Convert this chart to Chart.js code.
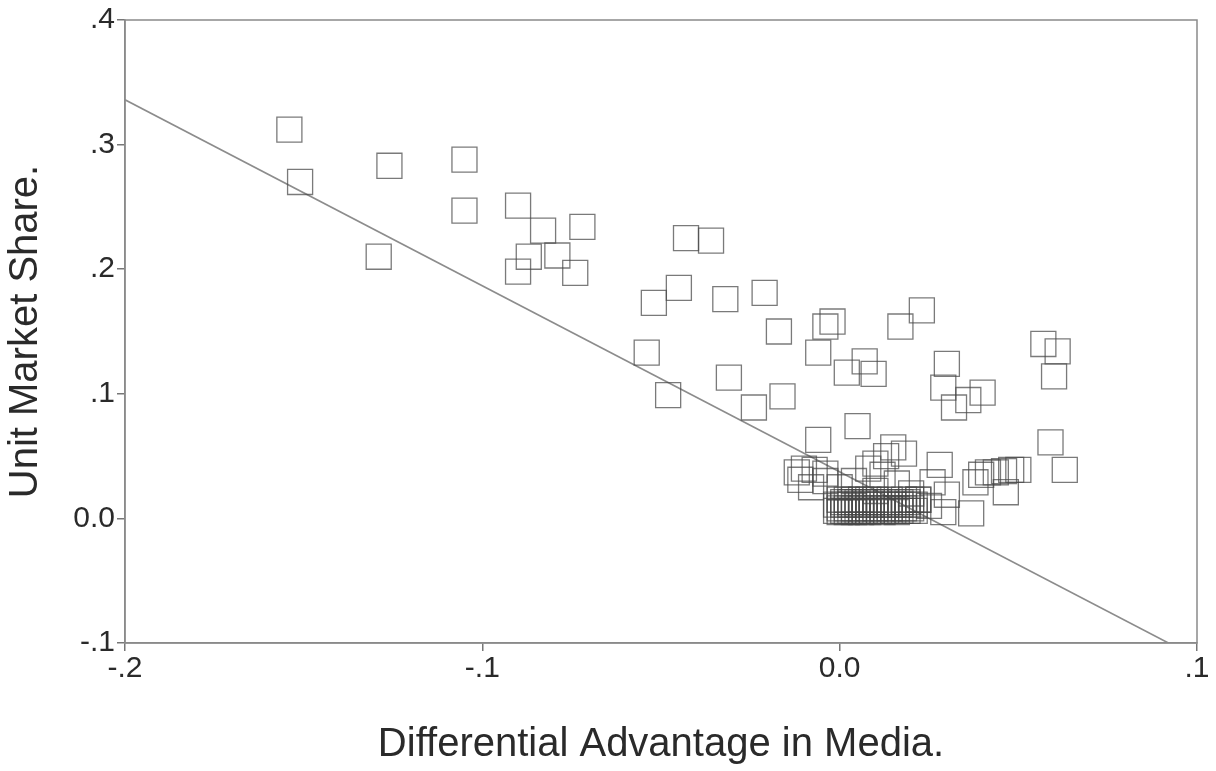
<!DOCTYPE html>
<html>
<head>
<meta charset="utf-8">
<script src="https://cdn.jsdelivr.net/npm/chart.js@4"></script>
<style>
  html, body { margin: 0; padding: 0; background: #ffffff; }
  #wrap { width: 1216px; height: 771px; }
</style>
</head>
<body>
<div id="wrap"><canvas id="c" width="1216" height="771"></canvas></div>
<script>
// Differential Advantage in Media (x) vs Unit Market Share (y)
const mediaAdvantage = [
  -0.154, -0.151, -0.126, -0.129, -0.105, -0.105, -0.090, -0.090, -0.087, -0.083,
  -0.079, -0.074, -0.072, -0.043, -0.036, -0.052, -0.045, -0.032, -0.021, -0.017,
  -0.004, -0.002, -0.006, 0.002, 0.007, 0.0095, 0.017, 0.023, -0.054, -0.048,
  -0.031, -0.024, -0.016, -0.006, 0.005, 0.030, 0.029, 0.032, 0.040, 0.036,
  0.057, 0.061, 0.060, 0.059, 0.063,
  0.0396, 0.0415, 0.0437, 0.046, 0.048, 0.050, 0.0465, 0.038,
  0.0368, 0.029, 0.030, 0.026, 0.028, 0.015, 0.018, 0.008, -0.010,
  -0.012, -0.011, -0.007, -0.004, 0.010, 0.013,
  0.000, 0.004, 0.010, 0.016, 0.020, 0.012, -0.004, -0.008, 0.022, 0.025,
  -0.001, 0.001, 0.003, 0.005, 0.007, 0.009, 0.011, 0.013, 0.015, 0.017, 0.019, 0.021,
  -0.001, 0.001, 0.003, 0.005, 0.007, 0.009, 0.011, 0.013, 0.015, 0.017, 0.019, 0.021,
  0.000, 0.002, 0.004, 0.006, 0.008, 0.010, 0.014, 0.018, 0.020, 0.022,
  0.000, 0.002, 0.004, 0.006, 0.008, 0.010, 0.012, 0.014, 0.016, 0.018, 0.020,
  0.001, 0.003, 0.005, 0.007, 0.009, 0.011, 0.013, 0.017, 0.019,
  0.000, 0.002, 0.004, 0.006, 0.008, 0.012, 0.016
];
const marketShare = [
  0.312, 0.270, 0.283, 0.210, 0.288, 0.247, 0.251, 0.198, 0.210, 0.231,
  0.211, 0.197, 0.234, 0.225, 0.223, 0.173, 0.185, 0.176, 0.181, 0.150,
  0.154, 0.158, 0.133, 0.117, 0.126, 0.116, 0.154, 0.167, 0.133, 0.099,
  0.113, 0.089, 0.098, 0.063, 0.074, 0.124, 0.105, 0.089, 0.101, 0.095,
  0.140, 0.134, 0.114, 0.061, 0.039,
  0.035, 0.037, 0.037, 0.038, 0.039, 0.039, 0.021, 0.029,
  0.004, 0.005, 0.019, 0.029, 0.043, 0.057, 0.052, 0.040, 0.040,
  0.037, 0.031, 0.039, 0.036, 0.044, 0.050,
  0.025, 0.030, 0.022, 0.028, 0.020, 0.035, 0.030, 0.025, 0.015, 0.010,
  0.006, 0.006, 0.006, 0.006, 0.006, 0.006, 0.006, 0.006, 0.006, 0.006, 0.006, 0.006,
  0.011, 0.011, 0.011, 0.011, 0.011, 0.011, 0.011, 0.011, 0.011, 0.011, 0.011, 0.011,
  0.015, 0.015, 0.015, 0.015, 0.015, 0.015, 0.015, 0.015, 0.015, 0.015,
  0.008, 0.008, 0.008, 0.008, 0.008, 0.008, 0.008, 0.008, 0.008, 0.008, 0.008,
  0.013, 0.013, 0.013, 0.013, 0.013, 0.013, 0.013, 0.013, 0.013,
  0.005, 0.005, 0.005, 0.005, 0.005, 0.005, 0.005
];
// fitted line end points
const fitX = [-0.2, 0.092];
const fitY = [0.336, -0.1];

const xTickValues = [-0.2, -0.1, 0.0, 0.1];
const xTickLabels = ['-.2', '-.1', '0.0', '.1'];
const yTickValues = [-0.1, 0.0, 0.1, 0.2, 0.3, 0.4];
const yTickLabels = ['-.1', '0.0', '.1', '.2', '.3', '.4'];

const points = mediaAdvantage.map((x, i) => ({ x: x, y: marketShare[i] }));
const fitLine = fitX.map((x, i) => ({ x: x, y: fitY[i] }));

const FONT = "'Liberation Sans', Arial, Helvetica, sans-serif";

const frame = {
  id: 'frame',
  afterDatasetsDraw(chart) {
    const a = chart.chartArea, ctx = chart.ctx;
    ctx.save();
    ctx.strokeStyle = '#8a8a8a';
    ctx.lineWidth = 1.5;
    ctx.strokeRect(a.left, a.top, a.right - a.left, a.bottom - a.top);
    ctx.restore();
  }
};

new Chart(document.getElementById('c'), {
  type: 'scatter',
  data: {
    datasets: [
      {
        label: 'Observed',
        data: points,
        pointStyle: 'rect',
        pointRadius: 17.7,
        pointHoverRadius: 17.7,
        borderColor: 'rgba(70,70,70,0.72)',
        backgroundColor: 'rgba(0,0,0,0)',
        pointBorderWidth: 1.3,
        borderWidth: 1.3
      },
      {
        type: 'line',
        label: 'Fit',
        data: fitLine,
        borderColor: '#8c8c8c',
        borderWidth: 1.6,
        pointRadius: 0,
        fill: false,
        tension: 0
      }
    ]
  },
  options: {
    responsive: false,
    animation: false,
    events: [],
    layout: { padding: { top: 20, right: 14, left: 0, bottom: 0 } },
    plugins: { legend: { display: false }, tooltip: { enabled: false } },
    scales: {
      x: {
        type: 'linear',
        min: -0.2, max: 0.1,
        afterFit(s) { s.height = 128; s.paddingRight = 0; s.paddingLeft = 0; },
        afterBuildTicks(s) { s.ticks = xTickValues.map(v => ({ value: v })); },
        ticks: {
          callback(v) { const i = xTickValues.findIndex(t => Math.abs(t - v) < 1e-9); return i >= 0 ? xTickLabels[i] : ''; },
          font: { family: FONT, size: 30 },
          color: '#2a2a2a',
          padding: 0,
          maxRotation: 0
        },
        grid: { display: true, drawOnChartArea: false, drawTicks: true, tickLength: 8, color: '#777', lineWidth: 1.5 },
        border: { display: true, color: '#8a8a8a', width: 1.5 },
        title: {
          display: true,
          text: 'Differential Advantage in Media.',
          font: { family: FONT, size: 40 },
          color: '#2a2a2a',
          padding: { top: 0, bottom: 2 }
        }
      },
      y: {
        type: 'linear',
        min: -0.1, max: 0.4,
        afterFit(s) { s.width = 125; s.paddingTop = 0; s.paddingBottom = 0; },
        afterBuildTicks(s) { s.ticks = yTickValues.map(v => ({ value: v })); },
        ticks: {
          callback(v) { const i = yTickValues.findIndex(t => Math.abs(t - v) < 1e-9); return i >= 0 ? yTickLabels[i] : ''; },
          font: { family: FONT, size: 30 },
          color: '#2a2a2a',
          padding: 2
        },
        grid: { display: true, drawOnChartArea: false, drawTicks: true, tickLength: 8, color: '#777', lineWidth: 1.5 },
        border: { display: true, color: '#8a8a8a', width: 1.5 },
        title: {
          display: true,
          text: 'Unit Market Share.',
          font: { family: FONT, size: 40 },
          color: '#2a2a2a',
          padding: { top: 2, bottom: 0 }
        }
      }
    }
  },
  plugins: [frame]
});
</script>
</body>
</html>
